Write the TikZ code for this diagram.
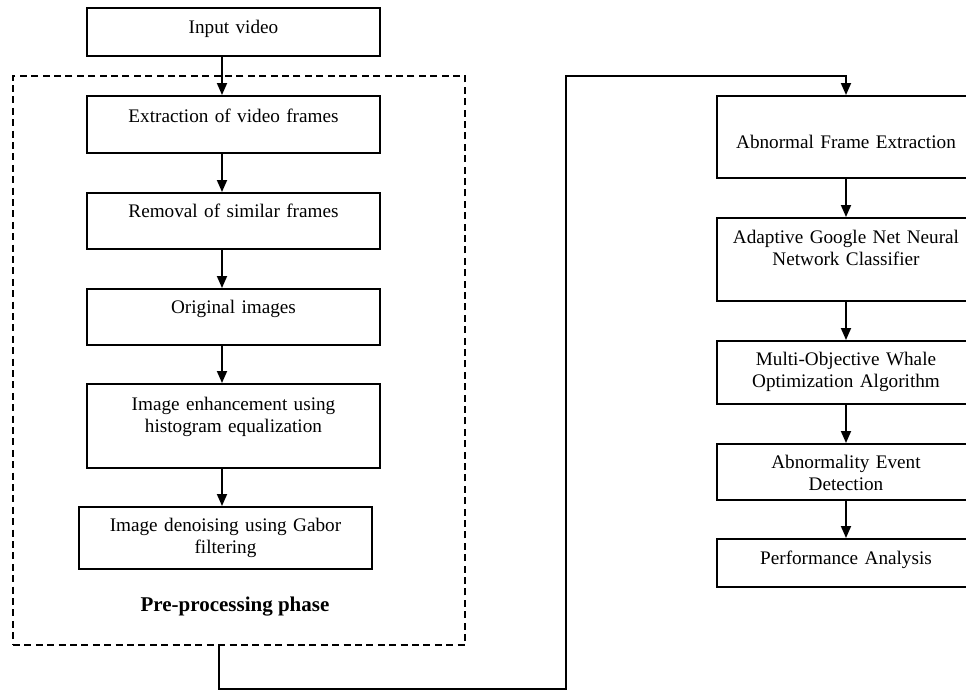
\documentclass[tikz,border=0pt]{standalone}
\usepackage{fontspec}
\setmainfont{Liberation Serif}
\usetikzlibrary{arrows.meta}

\begin{document}
\begin{tikzpicture}[x=0.5pt,y=-0.5pt,
        stepbox/.style={draw,line width=0.9pt,inner sep=0pt,align=center,anchor=north,
            font=\fontsize{9.6}{11}\selectfont},
        leftbox/.style={stepbox,text width=146.5pt},
        rightbox/.style={stepbox,text width=129pt},
        flow/.style={line width=0.9pt,-{Triangle[length=6pt,width=5pt]}}]
        \useasboundingbox (0,0) rectangle (966,691);
        % pre-processing frame
        \node[draw,dashed,dash pattern=on 3.5pt off 2.2pt,line width=0.9pt,inner sep=0pt,
            minimum width=226pt,minimum height=284.5pt] (pre) at (239,360.5) {};
        \node[font=\bfseries\fontsize{10.5}{12}\selectfont] (prelabel) at (235,607) {Pre-processing phase};
        % left column
        \node[leftbox,text height=13pt,text depth=11pt] (input) at (233.5,7) {Input video};
        \node[leftbox,text height=13.5pt,text depth=15pt] (extract) at (233.5,95) {Extraction of video frames};
        \node[leftbox,text height=12.5pt,text depth=15.5pt] (removal) at (233.5,192) {Removal of similar frames};
        \node[leftbox,text height=12.5pt,text depth=15.5pt] (orig) at (233.5,288) {Original images};
        \node[leftbox,text height=13.5pt,text depth=28.5pt] (enhance) at (233.5,383) {Image enhancement using\\histogram equalization};
        \node[leftbox,text height=12.5pt,text depth=18.5pt] (denoise) at (225.5,506) {Image denoising using Gabor\\filtering};
        % right column
        \node[rightbox,text height=26.5pt,text depth=14.5pt] (abframe) at (846,95) {Abnormal Frame Extraction};
        \node[rightbox,text height=13pt,text depth=28.5pt] (gnet) at (846,217) {Adaptive Google Net Neural\\Network Classifier};
        \node[rightbox,text height=12.5pt,text depth=19pt] (mowoa) at (846,340) {Multi-Objective Whale\\Optimization Algorithm};
        \node[rightbox,text height=12.5pt,text depth=15.5pt] (detect) at (846,443) {Abnormality Event\\Detection};
        \node[rightbox,text height=13pt,text depth=11pt] (perf) at (846,538) {Performance Analysis};
        % arrows
        \coordinate (lx) at (222,0);
        \draw[flow] (input.south -| lx) -- (extract.north -| lx);
        \draw[flow] (extract.south -| lx) -- (removal.north -| lx);
        \draw[flow] (removal.south -| lx) -- (orig.north -| lx);
        \draw[flow] (orig.south -| lx) -- (enhance.north -| lx);
        \draw[flow] (enhance.south -| lx) -- (denoise.north -| lx);
        \coordinate (turnA) at (219,689);
        \coordinate (turnB) at (566,689);
        \coordinate (turnC) at (566,76);
        \draw[flow] (pre.south -| turnA) -- (turnA) -- (turnB) -- (turnC) -| (abframe.north);
        \draw[flow] (abframe) -- (gnet);
        \draw[flow] (gnet) -- (mowoa);
        \draw[flow] (mowoa) -- (detect);
        \draw[flow] (detect) -- (perf);
    \end{tikzpicture}
\end{document}
